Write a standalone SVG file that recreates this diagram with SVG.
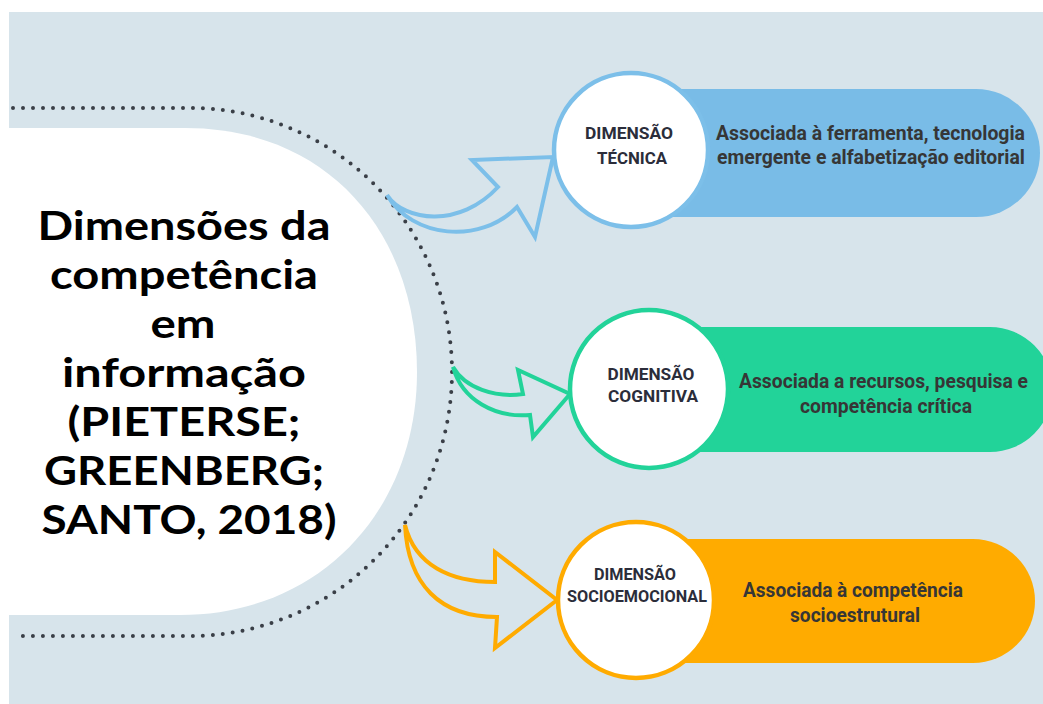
<svg xmlns="http://www.w3.org/2000/svg" width="1043" height="704" viewBox="0 0 1043 704">
  <style>
    .title { font-family: Lato, "Open Sans", sans-serif; font-weight: 700; font-size: 40px; fill: #000; text-anchor: middle; }
    .clabel { font-family: Roboto, "Liberation Sans", sans-serif; font-weight: 700; font-size: 17px; fill: #2b2d3a; text-anchor: middle; }
    .ptext { font-family: Roboto, "Liberation Sans", sans-serif; font-weight: 700; font-size: 20px; fill: #363636; text-anchor: middle; }
    .circ { fill: #ffffff; stroke-width: 4.5; }
    .arrow { fill: none; stroke-width: 4; stroke-linejoin: miter; }
    .blue { stroke: #7cbfe9; }
    .green { stroke: #22d399; }
    .orange { stroke: #ffab00; }
  </style>
  <rect x="0" y="0" width="1043" height="704" fill="#ffffff"/>
  <rect x="9" y="12" width="1034" height="692" fill="#d7e4eb"/>
  <path d="M9,128 H185 C330,128 417,235 417,372 C417,510 320,615 180,615 H9 Z" fill="#ffffff"/>
  <path d="M13,108 H190 A262 264 0 0 1 190,636 H13" fill="none" stroke="#3a3f47" stroke-width="4" stroke-linecap="round" stroke-dasharray="0 10"/>

  <g id="title">
    <text class="title" x="184" y="240" textLength="293" lengthAdjust="spacingAndGlyphs">Dimensões da</text>
    <text class="title" x="184" y="289" textLength="268" lengthAdjust="spacingAndGlyphs">competência</text>
    <text class="title" x="183" y="338" textLength="65" lengthAdjust="spacingAndGlyphs">em</text>
    <text class="title" x="184" y="387" textLength="244" lengthAdjust="spacingAndGlyphs">informação</text>
    <text class="title" x="184" y="436" textLength="233" lengthAdjust="spacingAndGlyphs">(PIETERSE;</text>
    <text class="title" x="184" y="485" textLength="280" lengthAdjust="spacingAndGlyphs">GREENBERG;</text>
    <text class="title" x="189" y="534" textLength="295" lengthAdjust="spacingAndGlyphs">SANTO, 2018)</text>
  </g>

  <g id="connectors">
    <path class="arrow blue" d="M387,195 C405,222 460,228 498,187 L472,160 L553,157 L535,237 L517,207 C480,245 412,238 387,195 Z"/>
    <path class="arrow green" d="M453,367 C465,388 495,398 523,394 L518,370 L570,394 L533,437 L530,415 C495,418 462,400 453,367 Z"/>
    <path class="arrow orange" d="M405,525 C415,565 450,582 495,582 L495,552 L557,600 L495,648 L497,617 C440,617 408,585 405,525 Z"/>
  </g>

  <g id="tecnica">
    <path d="M640,89 H976 A64 64 0 0 1 976,217 H640 Z" fill="#79bce7"/>
    <circle class="circ blue" cx="631" cy="150" r="77"/>
    <text class="clabel" x="629" y="139" textLength="88" lengthAdjust="spacingAndGlyphs">DIMENSÃO</text>
    <text class="clabel" x="632" y="164" textLength="70" lengthAdjust="spacingAndGlyphs">TÉCNICA</text>
    <text class="ptext" x="870.5" y="140" textLength="309" lengthAdjust="spacingAndGlyphs">Associada à ferramenta, tecnologia</text>
    <text class="ptext" x="871" y="164" textLength="308" lengthAdjust="spacingAndGlyphs">emergente e alfabetização editorial</text>
  </g>

  <g id="cognitiva">
    <path d="M650,327 H990 A62.5 62.5 0 0 1 990,452 H650 Z" fill="#22d399"/>
    <circle class="circ green" cx="649" cy="389" r="79"/>
    <text class="clabel" x="651" y="380" textLength="87" lengthAdjust="spacingAndGlyphs">DIMENSÃO</text>
    <text class="clabel" x="653" y="402" textLength="90" lengthAdjust="spacingAndGlyphs">COGNITIVA</text>
    <text class="ptext" x="883.5" y="388" textLength="289" lengthAdjust="spacingAndGlyphs">Associada a recursos, pesquisa e</text>
    <text class="ptext" x="886" y="413" textLength="172" lengthAdjust="spacingAndGlyphs">competência crítica</text>
  </g>

  <g id="socioemocional">
    <path d="M640,539 H973 A62 62 0 0 1 973,663 H640 Z" fill="#ffab00"/>
    <circle class="circ orange" cx="636" cy="600" r="78"/>
    <text class="clabel" x="635" y="580" textLength="82" lengthAdjust="spacingAndGlyphs">DIMENSÃO</text>
    <text class="clabel" x="637" y="602" textLength="140" lengthAdjust="spacingAndGlyphs">SOCIOEMOCIONAL</text>
    <text class="ptext" x="853" y="597" textLength="220" lengthAdjust="spacingAndGlyphs">Associada à competência</text>
    <text class="ptext" x="855" y="622" textLength="130" lengthAdjust="spacingAndGlyphs">socioestrutural</text>
  </g>
</svg>
